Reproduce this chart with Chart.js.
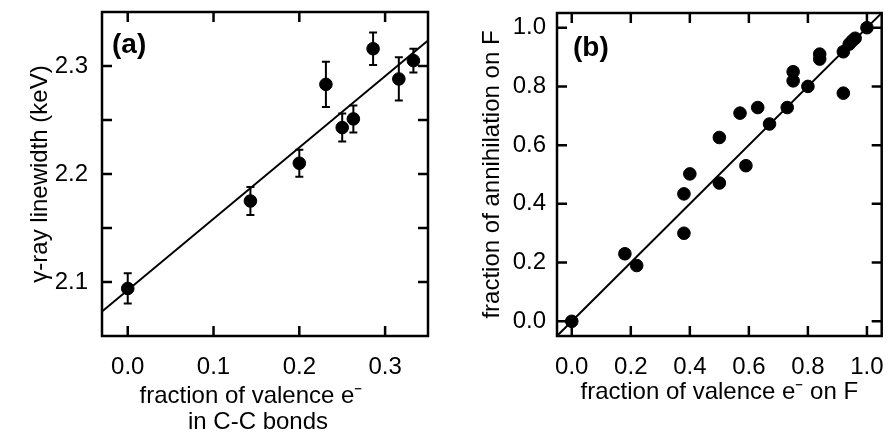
<!DOCTYPE html>
<html>
<head>
<meta charset="utf-8">
<script src="https://cdn.jsdelivr.net/npm/chart.js@4.4.1/dist/chart.umd.min.js"></script>
<style>
  html, body { margin: 0; padding: 0; background: #fff; }
  #wrap { position: relative; width: 889px; height: 433px; overflow: hidden; }
  canvas { position: absolute; top: 0; }
  #chartA { left: 0; }
  #chartB { left: 450px; }
</style>
</head>
<body>
<div id="wrap">
  <canvas id="chartA" width="450" height="433"></canvas>
  <canvas id="chartB" width="439" height="433"></canvas>
</div>
<script>
// ---------------------------------------------------------------------------
// DATA — panel (a): linewidth vs fraction of valence e- in C-C bonds
// ---------------------------------------------------------------------------
const aX   = [0, 0.143, 0.2, 0.231, 0.25, 0.263, 0.286, 0.316, 0.333];
const aY   = [2.094, 2.175, 2.210, 2.283, 2.243, 2.251, 2.316, 2.288, 2.305];
const aErr = [0.014, 0.013, 0.0125, 0.021, 0.013, 0.0125, 0.015, 0.020, 0.011];
const aFitX = [-0.03, 0.35];
const aFitY = [2.0727, 2.3237];
const aXTicks = [0, 0.1, 0.2, 0.3];
const aYTicks = [2.1, 2.15, 2.2, 2.25, 2.3];
const aXTitle = ["fraction of valence e\u207B", "in C-C bonds"];

// ---------------------------------------------------------------------------
// DATA — panel (b): fraction of annihilation on F vs fraction of valence e- on F
// ---------------------------------------------------------------------------
const bX = [0, 0.18, 0.22, 0.38, 0.38, 0.40, 0.50, 0.50, 0.57, 0.59, 0.63, 0.67,
            0.73, 0.75, 0.75, 0.80, 0.84, 0.84, 0.92, 0.92, 0.94, 0.95, 0.96, 1.0];
const bY = [0, 0.23, 0.19, 0.30, 0.434, 0.502, 0.471, 0.626, 0.709, 0.530, 0.728, 0.672,
            0.728, 0.850, 0.819, 0.80, 0.91, 0.893, 0.918, 0.777, 0.944, 0.955, 0.964, 1.0];
const bFitX = [-0.05, 1.05];
const bFitY = [-0.05, 1.05];
const bTicks = [0, 0.2, 0.4, 0.6, 0.8, 1.0];

// ---------------------------------------------------------------------------
// DEFAULTS
// ---------------------------------------------------------------------------
const FONT = "'Liberation Sans', Arial, Helvetica, sans-serif";
Chart.defaults.font.family = FONT;
Chart.defaults.font.size = 24;
Chart.defaults.color = "#000";

function toPoints(xs, ys) {
  return xs.map((x, i) => ({ x, y: ys[i] }));
}

// frame box, inward ticks on all four sides, panel letter, optional x title
const frame = {
  id: "frame",
  afterDatasetsDraw(chart, args, opts) {
    const { ctx, chartArea: a } = chart;
    const xs = chart.scales.x;
    const ys = chart.scales.y;
    const len = 10;
    ctx.save();
    ctx.strokeStyle = "#000";
    ctx.lineWidth = 2.5;
    ctx.beginPath();
    opts.xTicks.forEach(v => {
      const px = xs.getPixelForValue(v);
      ctx.moveTo(px, a.bottom); ctx.lineTo(px, a.bottom - len);
      ctx.moveTo(px, a.top);    ctx.lineTo(px, a.top + len);
    });
    opts.yTicks.forEach(v => {
      const py = ys.getPixelForValue(v);
      ctx.moveTo(a.left, py);  ctx.lineTo(a.left + len, py);
      ctx.moveTo(a.right, py); ctx.lineTo(a.right - len, py);
    });
    ctx.stroke();
    ctx.strokeRect(a.left, a.top, a.right - a.left, a.bottom - a.top);

    ctx.fillStyle = "#000";
    ctx.textBaseline = "alphabetic";
    ctx.textAlign = "left";
    ctx.font = "bold 28px " + FONT;
    ctx.fillText(opts.text, a.left + opts.dx, a.top + opts.dy);

    if (opts.xTitle) {
      ctx.font = "24px " + FONT;
      ctx.textAlign = "center";
      const cx = (a.left + a.right) / 2;
      opts.xTitle.forEach((line, i) => {
        ctx.fillText(line, cx + opts.xTitleDx[i], a.bottom + opts.xTitleDy[i]);
      });
    }
    ctx.restore();
  }
};

// error bars for panel (a)
const errorBars = {
  id: "errorBars",
  beforeDatasetsDraw(chart) {
    const { ctx } = chart;
    const xs = chart.scales.x;
    const ys = chart.scales.y;
    const cap = 4;
    ctx.save();
    ctx.strokeStyle = "#000";
    ctx.lineWidth = 2;
    ctx.beginPath();
    aX.forEach((x, i) => {
      const px = xs.getPixelForValue(x);
      const top = ys.getPixelForValue(aY[i] + aErr[i]);
      const bot = ys.getPixelForValue(aY[i] - aErr[i]);
      ctx.moveTo(px, top); ctx.lineTo(px, bot);
      ctx.moveTo(px - cap, top); ctx.lineTo(px + cap, top);
      ctx.moveTo(px - cap, bot); ctx.lineTo(px + cap, bot);
    });
    ctx.stroke();
    ctx.restore();
  }
};

function axis(min, max, ticks, fmt, size, padding, title) {
  return {
    type: "linear",
    min, max,
    afterBuildTicks: s => { s.ticks = ticks.map(v => ({ value: v })); },
    afterFit: s => {
      // no label overhang: keep the plot box where the layout puts it
      s.paddingTop = 0; s.paddingBottom = 0; s.paddingLeft = 0; s.paddingRight = 0;
      if (s.isHorizontal()) s.height = size; else s.width = size;
    },
    grid: { display: false, drawTicks: false },
    border: { display: false },
    ticks: { padding, autoSkip: false, maxRotation: 0, color: "#000", callback: fmt },
    title
  };
}

const lineDs = (xs, ys) => ({
  data: toPoints(xs, ys),
  showLine: true,
  borderColor: "#000",
  borderWidth: 2,
  pointRadius: 0,
  order: 2
});

const dotDs = (xs, ys) => ({
  data: toPoints(xs, ys),
  backgroundColor: "#000",
  borderColor: "#000",
  borderWidth: 1,
  pointRadius: 6.3,
  order: 1
});

const baseOpts = {
  responsive: false,
  animation: false,
  devicePixelRatio: 1,
  plugins: { legend: { display: false }, tooltip: { enabled: false } }
};

// ---------------------------------------------------------------------------
// PANEL (a)
// ---------------------------------------------------------------------------
new Chart(document.getElementById("chartA"), {
  type: "scatter",
  data: { datasets: [lineDs(aFitX, aFitY), dotDs(aX, aY)] },
  options: {
    ...baseOpts,
    layout: { padding: { top: 12, right: 22, left: 0, bottom: 0 } },
    plugins: {
      ...baseOpts.plugins,
      frame: { text: "(a)", dx: 10, dy: 41, xTicks: aXTicks, yTicks: aYTicks,
               xTitle: aXTitle, xTitleDx: [-14, -7], xTitleDy: [67, 93] }
    },
    scales: {
      x: axis(-0.03, 0.35, aXTicks, v => v.toFixed(1), 97, 17, { display: false }),
      y: axis(2.05, 2.35, aYTicks,
        v => (Math.round(v * 100) % 10 === 0 ? v.toFixed(1) : ""),
        102, 14, {
        display: true,
        text: "\u03B3-ray linewidth (keV)",
        font: { size: 24, lineHeight: 1.05 },
        padding: { top: 28, bottom: 0 }
      })
    }
  },
  plugins: [errorBars, frame]
});

// ---------------------------------------------------------------------------
// PANEL (b)
// ---------------------------------------------------------------------------
new Chart(document.getElementById("chartB"), {
  type: "scatter",
  data: { datasets: [lineDs(bFitX, bFitY), dotDs(bX, bY)] },
  options: {
    ...baseOpts,
    layout: { padding: { top: 13, right: 6, left: 0, bottom: 0 } },
    plugins: {
      ...baseOpts.plugins,
      frame: { text: "(b)", dx: 16, dy: 43, xTicks: bTicks, yTicks: bTicks }
    },
    scales: {
      x: axis(-0.05, 1.05, bTicks, v => v.toFixed(1), 97, 17, {
        display: true,
        text: "fraction of valence e\u207B on F",
        font: { size: 24, lineHeight: 1.05 },
        padding: { top: 0, bottom: 28 }
      }),
      y: axis(-0.05, 1.05, bTicks, v => v.toFixed(1), 107, 11, {
        display: true,
        text: "fraction of annihilation on F",
        font: { size: 24, lineHeight: 1.05 },
        padding: { top: 30, bottom: 0 }
      })
    }
  },
  plugins: [frame]
});
</script>
</body>
</html>
